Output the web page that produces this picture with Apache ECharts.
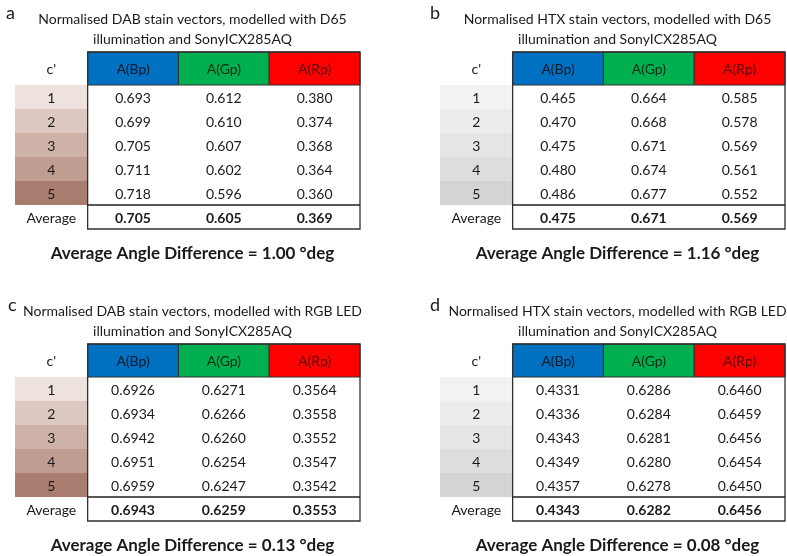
<!DOCTYPE html>
<html>
<head>
<meta charset="utf-8">
<script src="https://cdn.jsdelivr.net/npm/echarts@6/dist/echarts.min.js"></script>
<style>html,body{margin:0;padding:0;background:#fff}#chart{width:787px;height:556px}</style>
</head>
<body>
<div id="chart"></div>
<script>
// ---- data ----
const rowLabels = ['1', '2', '3', '4', '5'];
const avgLabel = 'Average';
const cLabel = "c'";
const headers = ['A(Bp)', 'A(Gp)', 'A(Rp)'];

const dabD65 = [
  [0.693, 0.612, 0.380],
  [0.699, 0.610, 0.374],
  [0.705, 0.607, 0.368],
  [0.711, 0.602, 0.364],
  [0.718, 0.596, 0.360]
];
const dabD65Avg = [0.705, 0.605, 0.369];

const htxD65 = [
  [0.465, 0.664, 0.585],
  [0.470, 0.668, 0.578],
  [0.475, 0.671, 0.569],
  [0.480, 0.674, 0.561],
  [0.486, 0.677, 0.552]
];
const htxD65Avg = [0.475, 0.671, 0.569];

const dabLed = [
  [0.6926, 0.6271, 0.3564],
  [0.6934, 0.6266, 0.3558],
  [0.6942, 0.6260, 0.3552],
  [0.6951, 0.6254, 0.3547],
  [0.6959, 0.6247, 0.3542]
];
const dabLedAvg = [0.6943, 0.6259, 0.3553];

const htxLed = [
  [0.4331, 0.6286, 0.6460],
  [0.4336, 0.6284, 0.6459],
  [0.4343, 0.6281, 0.6456],
  [0.4349, 0.6280, 0.6454],
  [0.4357, 0.6278, 0.6450]
];
const htxLedAvg = [0.4343, 0.6282, 0.6456];

const panelLetters = ['a', 'b', 'c', 'd'];
const panelTitles = [
  'Normalised DAB stain vectors, modelled with D65\nillumination and SonyICX285AQ',
  'Normalised HTX stain vectors, modelled with D65\nillumination and SonyICX285AQ',
  'Normalised DAB stain vectors, modelled with RGB LED\nillumination and SonyICX285AQ',
  'Normalised HTX stain vectors, modelled with RGB LED\nillumination and SonyICX285AQ'
];
const angleDiffs = ['1.00', '1.16', '0.13', '0.08'];
const decimals = [3, 3, 4, 4];

// ---- styles ----
const dabShades = ['#EDE2DE', '#DDC8C1', '#CEB2A8', '#BF9D91', '#A87D70'];
const htxShades = ['#F2F2F2', '#ECECEC', '#E5E5E5', '#DDDDDD', '#D4D4D4'];
const headFill = ['#0070C0', '#00B050', '#FF0000'];
const headText = ['#0d1a2c', '#0b2a12', '#5c0000'];
const FONT = 'Lato, "Open Sans", sans-serif';

const panelValues = [dabD65, htxD65, dabLed, htxLed];
const panelAvgs = [dabD65Avg, htxD65Avg, dabLedAvg, htxLedAvg];
const panelShades = [dabShades, htxShades, dabShades, htxShades];

const panelLeft = [15, 440, 15, 440];
const panelTop = [0, 0, 292, 292];
const letterLeft = [1, 425, 3, 425];
const gridW = 345;
const C0 = -0.8, XMAX = 3, HEAD = -1.375, YMAX = 6;

const chart = echarts.init(document.getElementById('chart'), null, {renderer: 'canvas'});

const grids = [], xAxes = [], yAxes = [], series = [], titles = [];

panelLetters.forEach((letter, p) => {
  const left = panelLeft[p], top = panelTop[p];
  const cx = left + gridW / 2;
  grids.push({left: left, top: top + 52, width: gridW, height: 177});
  xAxes.push({type: 'value', gridIndex: p, min: C0, max: XMAX, show: false});
  yAxes.push({type: 'value', gridIndex: p, min: HEAD, max: YMAX, inverse: true, show: false});

  const cells = [];
  cells.push({kind: 'text', ci: 0, ri: -1, text: cLabel});
  headers.forEach((h, j) => cells.push({kind: 'head', ci: j + 1, ri: -1, text: h, fill: headFill[j], color: headText[j]}));
  panelValues[p].forEach((row, i) => {
    cells.push({kind: 'shade', ci: 0, ri: i, text: rowLabels[i], fill: panelShades[p][i]});
    row.forEach((v, j) => cells.push({kind: 'text', ci: j + 1, ri: i, text: v.toFixed(decimals[p])}));
  });
  cells.push({kind: 'text', ci: 0, ri: 5, text: avgLabel});
  panelAvgs[p].forEach((v, j) => cells.push({kind: 'bold', ci: j + 1, ri: 5, text: v.toFixed(decimals[p])}));
  cells.push({kind: 'box', ci: 1, ri: -1});
  cells.push({kind: 'sep', ci: 1, ri: 5});

  series.push({
    type: 'custom',
    xAxisIndex: p,
    yAxisIndex: p,
    silent: true,
    animation: false,
    data: cells.map(c => [c.ci, c.ri]),
    renderItem: function (params, api) {
      const c = cells[params.dataIndex];
      if (c.kind === 'box') {
        const a = api.coord([0, HEAD]), b = api.coord([3, YMAX]);
        return {type: 'rect', shape: {x: a[0], y: a[1], width: b[0] - a[0], height: b[1] - a[1]},
          style: {fill: 'none', stroke: '#303030', lineWidth: 1.3}, z2: 10};
      }
      if (c.kind === 'sep') {
        const a = api.coord([0, 5]), b = api.coord([3, 5]);
        return {type: 'line', shape: {x1: a[0], y1: a[1], x2: b[0], y2: b[1]},
          style: {stroke: '#202020', lineWidth: 1.6}, z2: 10};
      }
      const x0 = c.ci === 0 ? C0 : c.ci - 1, x1 = c.ci === 0 ? 0 : c.ci;
      const y0 = c.ri < 0 ? HEAD : c.ri, y1 = c.ri < 0 ? 0 : c.ri + 1;
      const a = api.coord([x0, y0]), b = api.coord([x1, y1]);
      const children = [];
      if (c.fill) {
        children.push({type: 'rect', shape: {x: a[0], y: a[1], width: b[0] - a[0], height: b[1] - a[1]},
          style: {fill: c.fill, stroke: c.kind === 'head' ? '#303030' : null, lineWidth: c.kind === 'head' ? 1 : 0}});
      }
      children.push({type: 'text', x: (a[0] + b[0]) / 2, y: (a[1] + b[1]) / 2 + 1,
        style: {text: c.text, align: 'center', verticalAlign: 'middle',
          font: (c.kind === 'bold' ? 'bold ' : '') + '14px ' + FONT,
          fill: c.color || '#1a1a1a'}});
      return {type: 'group', children: children};
    }
  });

  titles.push({text: letter, left: letterLeft[p], top: top - 1,
    textStyle: {fontSize: 18, fontWeight: 'normal', color: '#1a1a1a', fontFamily: FONT}});
  titles.push({text: panelTitles[p], left: cx, top: top + 4, textAlign: 'center',
    textStyle: {fontSize: 14, fontWeight: 'normal', color: '#1a1a1a', fontFamily: FONT, lineHeight: 20}});
  titles.push({text: 'Average Angle Difference = ' + angleDiffs[p] + ' \u00B0deg', left: cx, top: top + 239, textAlign: 'center',
    textStyle: {fontSize: 17, fontWeight: 'bold', color: '#1a1a1a', fontFamily: FONT, lineHeight: 20}});
});

chart.setOption({
  animation: false,
  backgroundColor: '#ffffff',
  title: titles,
  grid: grids,
  xAxis: xAxes,
  yAxis: yAxes,
  series: series
});
</script>
</body>
</html>
